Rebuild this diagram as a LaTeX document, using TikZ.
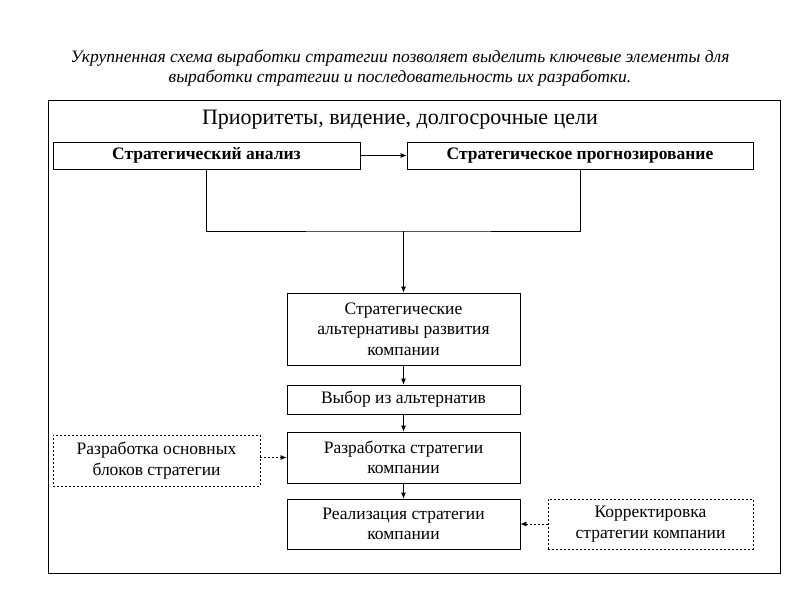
\documentclass[tikz,border=0pt]{standalone}
\usepackage{fontspec}
\setmainfont{Liberation Serif}
\usetikzlibrary{positioning, arrows.meta}
\tikzstyle{box}=[draw,line width=0.8pt,align=center,inner sep=2pt,font=\fontsize{17.5}{20.5}\selectfont]
\tikzstyle{dbox}=[box,dashed,dash pattern=on 2pt off 2pt]
\tikzstyle{arr}=[line width=0.8pt,-{Latex[length=6pt,width=5pt]}]
\tikzstyle{darr}=[arr,dash pattern=on 2pt off 2pt]

\begin{document}
\begin{tikzpicture}[x=1pt,y=-1pt]
\useasboundingbox (0,0) rectangle (800,600);
\node[font=\fontsize{17.5}{20}\selectfont\itshape,align=center] (cap) at (400,68)
	{Укрупненная схема выработки стратегии позволяет выделить ключевые элементы для\\
	 выработки стратегии и последовательность их разработки.};
\draw[line width=0.8pt] (48,100) rectangle (780,573);
\node[font=\fontsize{22}{26}\selectfont] (prio) at (400,120) {Приоритеты, видение, долгосрочные цели};
\node[box,minimum width=307pt,minimum height=27pt,font=\fontsize{17.5}{20.5}\selectfont\bfseries] (an) at (206.5,155.5) {Стратегический анализ};
\node[box,minimum width=346pt,minimum height=27pt,font=\fontsize{17.5}{20.5}\selectfont\bfseries] (pr) at (580,155.5) {Стратегическое прогнозирование};
\coordinate (join) at (403.5,231);
\node[box,minimum width=233pt,minimum height=72pt] (alt) at (403.5,329) {Стратегические\\альтернативы развития\\компании};
\node[box,minimum width=233pt,minimum height=29pt] (vyb) at (403.5,399.5) {Выбор из альтернатив};
\node[box,minimum width=233pt,minimum height=51pt] (razr) at (403.5,457.5) {Разработка стратегии\\компании};
\node[box,minimum width=233pt,minimum height=50pt] (real) at (403.5,524) {Реализация стратегии\\компании};
\node[dbox,minimum width=207pt,minimum height=51pt] (blok) at (156.5,460.5) {Разработка основных\\блоков стратегии};
\node[dbox,minimum width=205pt,minimum height=50pt] (korr) at (650.5,524) {Корректировка\\стратегии компании};
% connectors
\draw[arr] (an) -- (pr);
\draw[line width=0.8pt] (an.south) |- (join) -| (pr.south);
\draw[arr] (join) -- (alt);
\draw[arr] (alt) -- (vyb);
\draw[arr] (vyb) -- (razr);
\draw[arr] (razr) -- (real);
\draw[darr] (blok.east |- razr.west) -- (razr.west);
\draw[darr] (korr) -- (real);
\end{tikzpicture}
\end{document}
